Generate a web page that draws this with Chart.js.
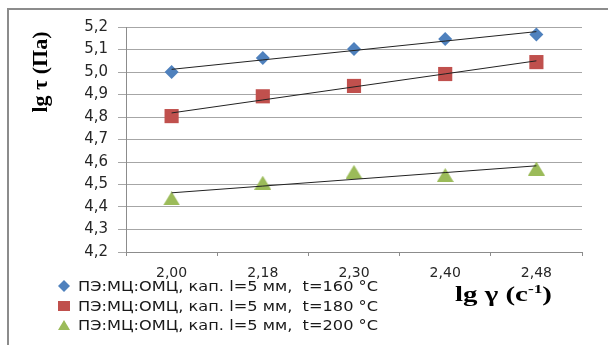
<!DOCTYPE html>
<html>
<head>
<meta charset="utf-8">
<script src="https://cdn.jsdelivr.net/npm/chart.js@4.4.0/dist/chart.umd.min.js"></script>
<style>
  html, body { margin: 0; padding: 0; background: #fff; }
  #wrap { position: relative; width: 608px; height: 345px; overflow: hidden; }
  #frame { position: absolute; left: 7px; top: 8px; width: 640px; height: 400px;
           border-top: 2px solid #8c8c8c; border-left: 2px solid #8c8c8c; }
  canvas { position: absolute; left: 0; top: 0; }
</style>
</head>
<body>
<div id="wrap">
  <div id="frame"></div>
  <canvas id="chart" width="608" height="345"></canvas>
</div>
<script>
// данные
const categories = ['2,00', '2,18', '2,30', '2,40', '2,48'];
const values160 = [5.000, 5.062, 5.102, 5.147, 5.167];
const values180 = [4.804, 4.892, 4.938, 4.991, 5.044];
const values200 = [4.438, 4.508, 4.556, 4.542, 4.571];
const seriesLabels = [
  'ПЭ:МЦ:ОМЦ, кап. l=5 мм,  t=160 °C',
  'ПЭ:МЦ:ОМЦ, кап. l=5 мм,  t=180 °C',
  'ПЭ:МЦ:ОМЦ, кап. l=5 мм,  t=200 °C'
];
const yMin = 4.2, yMax = 5.2, yStep = 0.1;
const xTitle = 'lg γ (c';
const xTitleSup = '-1';
const yTitle = 'lg τ (Па)';

const colors = ['#4F81BD', '#C0504D', '#9BBB59'];

// линейный тренд по точкам серии
function trend(vals) {
  const n = vals.length, xm = (n - 1) / 2;
  const ym = vals.reduce((a, b) => a + b, 0) / n;
  let sxy = 0, sxx = 0;
  vals.forEach((v, i) => { sxy += (i - xm) * (v - ym); sxx += (i - xm) * (i - xm); });
  const k = sxy / sxx;
  return vals.map((v, i) => ym + k * (i - xm));
}

function triangleImg(w, h, color) {
  const c = document.createElement('canvas');
  c.width = w; c.height = h;
  const g = c.getContext('2d');
  g.fillStyle = color;
  g.beginPath();
  g.moveTo(w / 2, 0); g.lineTo(w, h); g.lineTo(0, h);
  g.closePath(); g.fill();
  return c;
}

const triangle = triangleImg(17, 14, colors[2]);
const triangleSmall = triangleImg(12, 10, colors[2]);

function markerSet(label, data, color, style, radius) {
  return {
    label: label, data: data, showLine: false,
    pointStyle: style, pointRadius: radius, pointHoverRadius: radius,
    backgroundColor: color, borderColor: color, borderWidth: 0, order: 2
  };
}
function trendSet(data) {
  return {
    label: '', data: trend(data), borderColor: '#222', borderWidth: 1,
    pointRadius: 0, fill: false, order: 1
  };
}

// текст, растянутый по ширине (как на исходной картинке)
function stretchText(ctx, text, x, y, width) {
  const w = ctx.measureText(text).width;
  ctx.save();
  ctx.translate(x, y);
  ctx.scale(width / w, 1);
  ctx.fillText(text, 0, 0);
  ctx.restore();
}

// легенда, подписи осей
const extras = {
  id: 'extras',
  afterDraw(chart) {
    const ctx = chart.ctx;
    ctx.save();
    // легенда
    const rows = [286, 306, 325];
    ctx.font = '14px "DejaVu Sans"';
    ctx.textBaseline = 'middle';
    ctx.textAlign = 'left';
    rows.forEach((y, i) => {
      const x = 64;
      ctx.fillStyle = colors[i];
      ctx.beginPath();
      if (i === 0) {
        ctx.moveTo(x, y - 6); ctx.lineTo(x + 6, y); ctx.lineTo(x, y + 6); ctx.lineTo(x - 6, y);
        ctx.closePath(); ctx.fill();
      } else if (i === 1) {
        ctx.fillRect(x - 6, y - 5, 12, 10);
      } else {
        ctx.drawImage(triangleSmall, x - 6, y - 5);
      }
      ctx.fillStyle = '#1a1a1a';
      stretchText(ctx, seriesLabels[i], 78, y + 1, 300);
    });
    // подпись оси X
    ctx.fillStyle = '#000';
    ctx.textBaseline = 'alphabetic';
    ctx.save();
    ctx.translate(455, 301);
    ctx.font = 'bold 20px "Liberation Serif"';
    const w1 = ctx.measureText(xTitle).width;
    ctx.font = 'bold 12px "Liberation Serif"';
    const w2 = ctx.measureText(xTitleSup).width;
    ctx.font = 'bold 20px "Liberation Serif"';
    const w3 = ctx.measureText(')').width;
    ctx.scale(97 / (w1 + w2 + w3), 1);
    ctx.fillText(xTitle, 0, 0);
    ctx.font = 'bold 12px "Liberation Serif"';
    ctx.fillText(xTitleSup, w1, -8);
    ctx.font = 'bold 20px "Liberation Serif"';
    ctx.fillText(')', w1 + w2, 0);
    ctx.restore();
    // подпись оси Y
    ctx.translate(41, 72);
    ctx.rotate(-Math.PI / 2);
    ctx.textAlign = 'center';
    ctx.textBaseline = 'middle';
    ctx.font = 'bold 22px "Liberation Serif"';
    ctx.fillText(yTitle, 0, 0);
    ctx.restore();
  }
};

new Chart(document.getElementById('chart'), {
  type: 'line',
  data: {
    labels: categories,
    datasets: [
      markerSet(seriesLabels[0], values160, colors[0], 'rectRot', 7),
      markerSet(seriesLabels[1], values180, colors[1], 'rect', 10),
      markerSet(seriesLabels[2], values200, colors[2], triangle, 9),
      trendSet(values160),
      trendSet(values180),
      trendSet(values200)
    ]
  },
  options: {
    responsive: false,
    animation: false,
    layout: { padding: { left: 0, top: 27, right: 26, bottom: 0 } },
    plugins: { legend: { display: false }, tooltip: { enabled: false } },
    scales: {
      x: {
        type: 'category',
        offset: true,
        grid: { display: true, drawOnChartArea: false, offset: true, tickLength: 4, color: '#8c8c8c' },
        border: { display: true, color: '#8c8c8c', width: 1 },
        ticks: { color: '#262626', font: { family: 'DejaVu Sans', size: 14 }, padding: 9, maxRotation: 0 },
        afterFit(scale) { scale.height = 93; }
      },
      y: {
        min: yMin, max: yMax,
        grid: { color: '#a6a6a6', tickLength: 8 },
        border: { display: true, color: '#8c8c8c', width: 1 },
        ticks: {
          stepSize: yStep, color: '#262626', padding: 10,
          font: { family: 'DejaVu Sans', size: 15 },
          callback: v => v.toFixed(1).replace('.', ',')
        },
        afterFit(scale) { scale.width = 126; }
      }
    }
  },
  plugins: [extras]
});
</script>
</body>
</html>
